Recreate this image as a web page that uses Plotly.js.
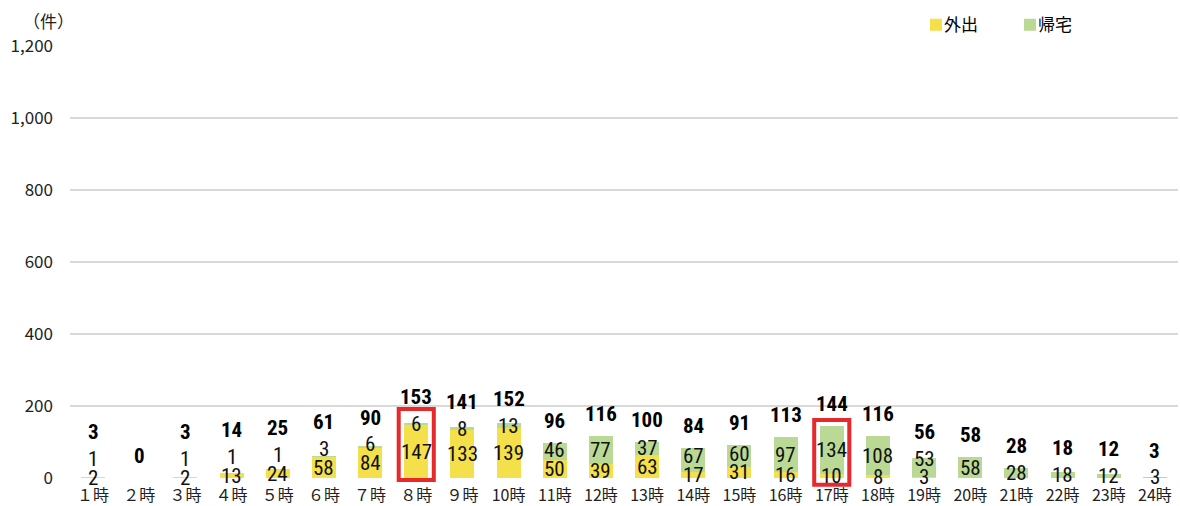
<!DOCTYPE html>
<html>
<head>
<meta charset="utf-8">
<script src="https://cdn.plot.ly/plotly-3.0.1.min.js"></script>
<style>html,body{margin:0;padding:0;background:#fff;}#chart{width:1180px;height:506px;}</style>
</head>
<body>
<div id="chart"></div>
<script>
const hours = ['１時','２時','３時','４時','５時','６時','７時','８時','９時','10時','11時','12時',
  '13時','14時','15時','16時','17時','18時','19時','20時','21時','22時','23時','24時'];
const outgoing = [2,0,2,13,24,58,84,147,133,139,50,39,63,17,31,16,10,8,3,0,0,0,0,0];
const returning = [1,0,1,1,1,3,6,6,8,13,46,77,37,67,60,97,134,108,53,58,28,18,12,3];
const seriesNames = ['外出','帰宅'];
const yTicks = [0,200,400,600,800,1000,1200];
const yTickText = ['0','200','400','600','800','1,000','1,200'];
const highlighted = ['８時','17時'];

const colors = {out:'#F3E04B', home:'#B9D995'};
const yMax = 1200;
const numFont = 'Roboto Condensed, DejaVu Sans Condensed, sans-serif';
const jpFont = 'Noto Sans CJK JP, sans-serif';

const traces = [
  {type:'bar', name:seriesNames[0], x:hours, y:outgoing, marker:{color:colors.out}, hoverinfo:'skip'},
  {type:'bar', name:seriesNames[1], x:hours, y:returning, marker:{color:colors.home}, hoverinfo:'skip'}
];

const annotations = [];
hours.forEach((h,i) => {
  const o = outgoing[i], r = returning[i], t = o + r;
  let outY = null;
  if (o > 0) {
    outY = o/2;
    annotations.push({x:h, y:outY, xref:'x', yref:'y', text:String(o), showarrow:false,
      font:{family:numFont, size:21, color:'#111'}, yanchor:'middle'});
  }
  let homeY = null;
  if (r > 0) {
    homeY = o + r/2;
    if (outY !== null) homeY = Math.max(homeY, outY + 52);
    annotations.push({x:h, y:homeY, xref:'x', yref:'y', text:String(r), showarrow:false,
      font:{family:numFont, size:21, color:'#111'}, yanchor:'middle'});
  }
  let totY = t + 61;
  if (homeY !== null) totY = Math.max(totY, homeY + 74);
  annotations.push({x:h, y:totY, xref:'x', yref:'y', text:'<b>'+t+'</b>', showarrow:false,
    font:{family:numFont, size:21, color:'#000'}, yanchor:'middle'});
});
annotations.push({x:0.0054, y:1.06, xref:'paper', yref:'paper', text:'（件）', showarrow:false,
  xanchor:'right', yanchor:'middle', font:{family:jpFont, size:17, color:'#222'}});

const boxPads = {'８時':[-5.5, 192], '17時':[-19, 161]};
const shapes = highlighted.map(h => {
  const i = hours.indexOf(h);
  const pad = boxPads[h];
  return {type:'rect', xref:'x', yref:'paper', x0:i-0.38, x1:i+0.38,
    y0:pad[0]/yMax, y1:pad[1]/yMax, line:{color:'#E8292B', width:4}, fillcolor:'rgba(0,0,0,0)'};
});

const layout = {
  width:1180, height:506,
  margin:{l:70, r:2, t:46, b:28},
  barmode:'stack', bargap:0.48,
  paper_bgcolor:'#fff', plot_bgcolor:'#fff',
  font:{family:jpFont, size:17, color:'#222'},
  xaxis:{type:'category', showgrid:false, showline:false, zeroline:false, ticks:'',
    ticklabelstandoff:6, tickfont:{family:jpFont, size:16, color:'#222'}, fixedrange:true},
  yaxis:{range:[0,yMax], tickvals:yTicks, ticktext:yTickText, showgrid:true,
    gridcolor:'#D9D9D9', gridwidth:1.5, zeroline:false, showline:false, ticks:'',
    ticklabelstandoff:16, tickfont:{family:jpFont, size:17, color:'#222'}, fixedrange:true},
  legend:{orientation:'h', x:0.7635, y:1.048, xanchor:'left', yanchor:'middle',
    font:{family:jpFont, size:17, color:'#000'}, itemwidth:30, entrywidth:49, traceorder:'normal'},
  showlegend:true,
  annotations:annotations,
  shapes:shapes
};

Plotly.newPlot('chart', traces, layout, {staticPlot:true, displayModeBar:false}).then(gd => {
  // pull legend text right next to its swatch, as in the reference
  gd.querySelectorAll('.legend .legendtext').forEach(t => t.setAttribute('x', 28));
});
</script>
</body>
</html>
